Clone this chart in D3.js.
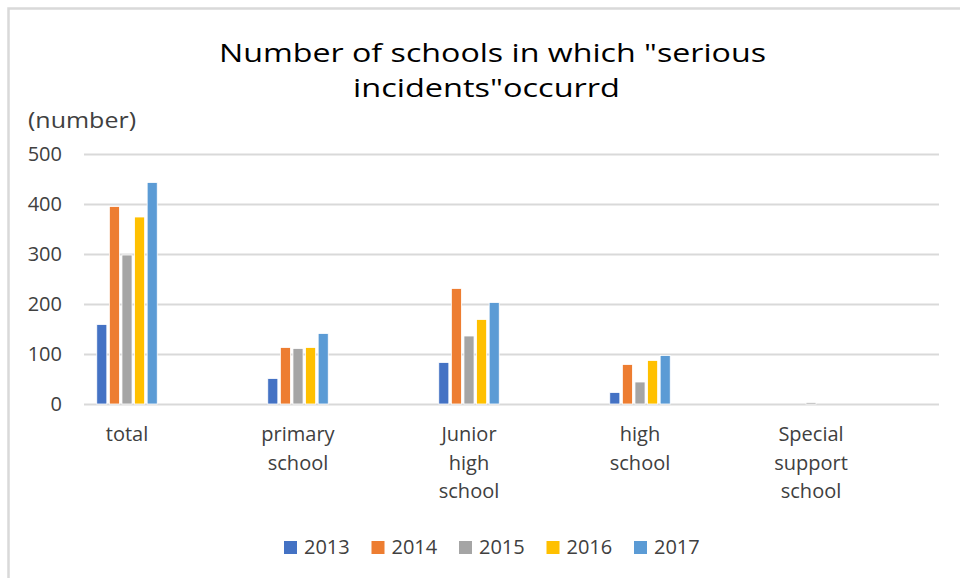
<!DOCTYPE html>
<html>
<head>
<meta charset="utf-8">
<script src="https://cdn.jsdelivr.net/npm/d3@7"></script>
<style>
  body { margin: 0; background: #fff; }
  svg { display: block; font-family: "Open Sans", sans-serif; }
</style>
</head>
<body>
<div id="chart"></div>
<script>
// categories and series
const categories = ["total", "primary school", "Junior high school", "high school", "Special support school"];
const categoryLines = [["total"], ["primary", "school"], ["Junior", "high", "school"], ["high", "school"], ["Special", "support", "school"]];
const years = ["2013", "2014", "2015", "2016", "2017"];
const v2013 = [159, 51, 83, 23, 0];
const v2014 = [395, 113, 231, 79, 0];
const v2015 = [298, 111, 136, 44, 3];
const v2016 = [374, 113, 169, 87, 0];
const v2017 = [443, 141, 203, 97, 0];
const yTicks = [0, 100, 200, 300, 400, 500];

const series = [v2013, v2014, v2015, v2016, v2017];
const colors = ["#4472C4", "#ED7D31", "#A5A5A5", "#FFC000", "#5B9BD5"];

const W = 960, H = 578;

const svg = d3.select("#chart")
  .append("svg")
  .attr("width", W)
  .attr("height", H);

// outer chart frame (cut off at right and bottom)
svg.append("rect")
  .attr("x", 8.5)
  .attr("y", 8.5)
  .attr("width", W + 20)
  .attr("height", H + 20)
  .attr("fill", "#fff")
  .attr("stroke", "#d9d9d9")
  .attr("stroke-width", 2.5);

// title
svg.append("text")
  .attr("x", 219)
  .attr("y", 62)
  .attr("textLength", 547)
  .attr("lengthAdjust", "spacingAndGlyphs")
  .style("font-size", "26px")
  .style("fill", "#000")
  .text('Number of schools in which "serious');
svg.append("text")
  .attr("x", 353)
  .attr("y", 97)
  .attr("textLength", 267)
  .attr("lengthAdjust", "spacingAndGlyphs")
  .style("font-size", "26px")
  .style("fill", "#000")
  .text('incidents"occurrd');

svg.append("text")
  .attr("x", 28)
  .attr("y", 128)
  .attr("textLength", 108)
  .attr("lengthAdjust", "spacingAndGlyphs")
  .style("font-size", "21px")
  .style("fill", "#404040")
  .text("(number)");

// scales
const x0 = d3.scaleBand()
  .domain(categories)
  .range([41.5, 896.5]);

const x1 = d3.scaleBand()
  .domain(years)
  .range([-31.5, 31.5])
  .paddingInner(0.2)
  .paddingOuter(0.1);

const y = d3.scaleLinear()
  .domain([0, 500])
  .range([404, 154]);

// gridlines + y axis
const yAxis = svg.append("g")
  .attr("transform", "translate(84,0)")
  .call(d3.axisLeft(y).tickValues(yTicks).tickSize(-855).tickPadding(22));
yAxis.select(".domain").remove();
yAxis.selectAll(".tick line")
  .attr("stroke", "#d9d9d9")
  .attr("stroke-width", 2);
yAxis.selectAll(".tick text")
  .style("font-family", "Open Sans, sans-serif")
  .style("font-size", "20px")
  .attr("fill", "#404040");

// bars
const groups = svg.append("g")
  .selectAll("g")
  .data(categories)
  .join("g")
  .attr("transform", d => `translate(${x0(d) + x0.bandwidth() / 2},0)`);

groups.selectAll("rect")
  .data((d, i) => years.map((yr, j) => ({ year: yr, j: j, value: series[j][i] })))
  .join("rect")
  .attr("x", d => x1(d.year))
  .attr("width", x1.bandwidth())
  .attr("y", d => y(d.value))
  .attr("height", d => y(0) - y(d.value))
  .attr("fill", d => colors[d.j])
  .attr("stroke", "#fff")
  .attr("stroke-width", 0.8);

// category labels
const catLabels = svg.append("g")
  .selectAll("text")
  .data(categories)
  .join("text")
  .attr("x", d => x0(d) + x0.bandwidth() / 2)
  .attr("y", 441)
  .attr("text-anchor", "middle")
  .style("font-size", "20px")
  .style("fill", "#404040");

catLabels.selectAll("tspan")
  .data((d, i) => categoryLines[i])
  .join("tspan")
  .attr("x", function () { return d3.select(this.parentNode).attr("x"); })
  .attr("dy", (d, i) => i === 0 ? 0 : 28.5)
  .text(d => d);

// legend
const legend = svg.append("g")
  .selectAll("g")
  .data(years)
  .join("g")
  .attr("transform", (d, i) => `translate(${284 + i * 87.5},0)`);

legend.append("rect")
  .attr("x", 0)
  .attr("y", 541)
  .attr("width", 13)
  .attr("height", 13)
  .attr("fill", (d, i) => colors[i]);

legend.append("text")
  .attr("x", 20)
  .attr("y", 554)
  .style("font-size", "20px")
  .style("fill", "#404040")
  .text(d => d);
</script>
</body>
</html>
